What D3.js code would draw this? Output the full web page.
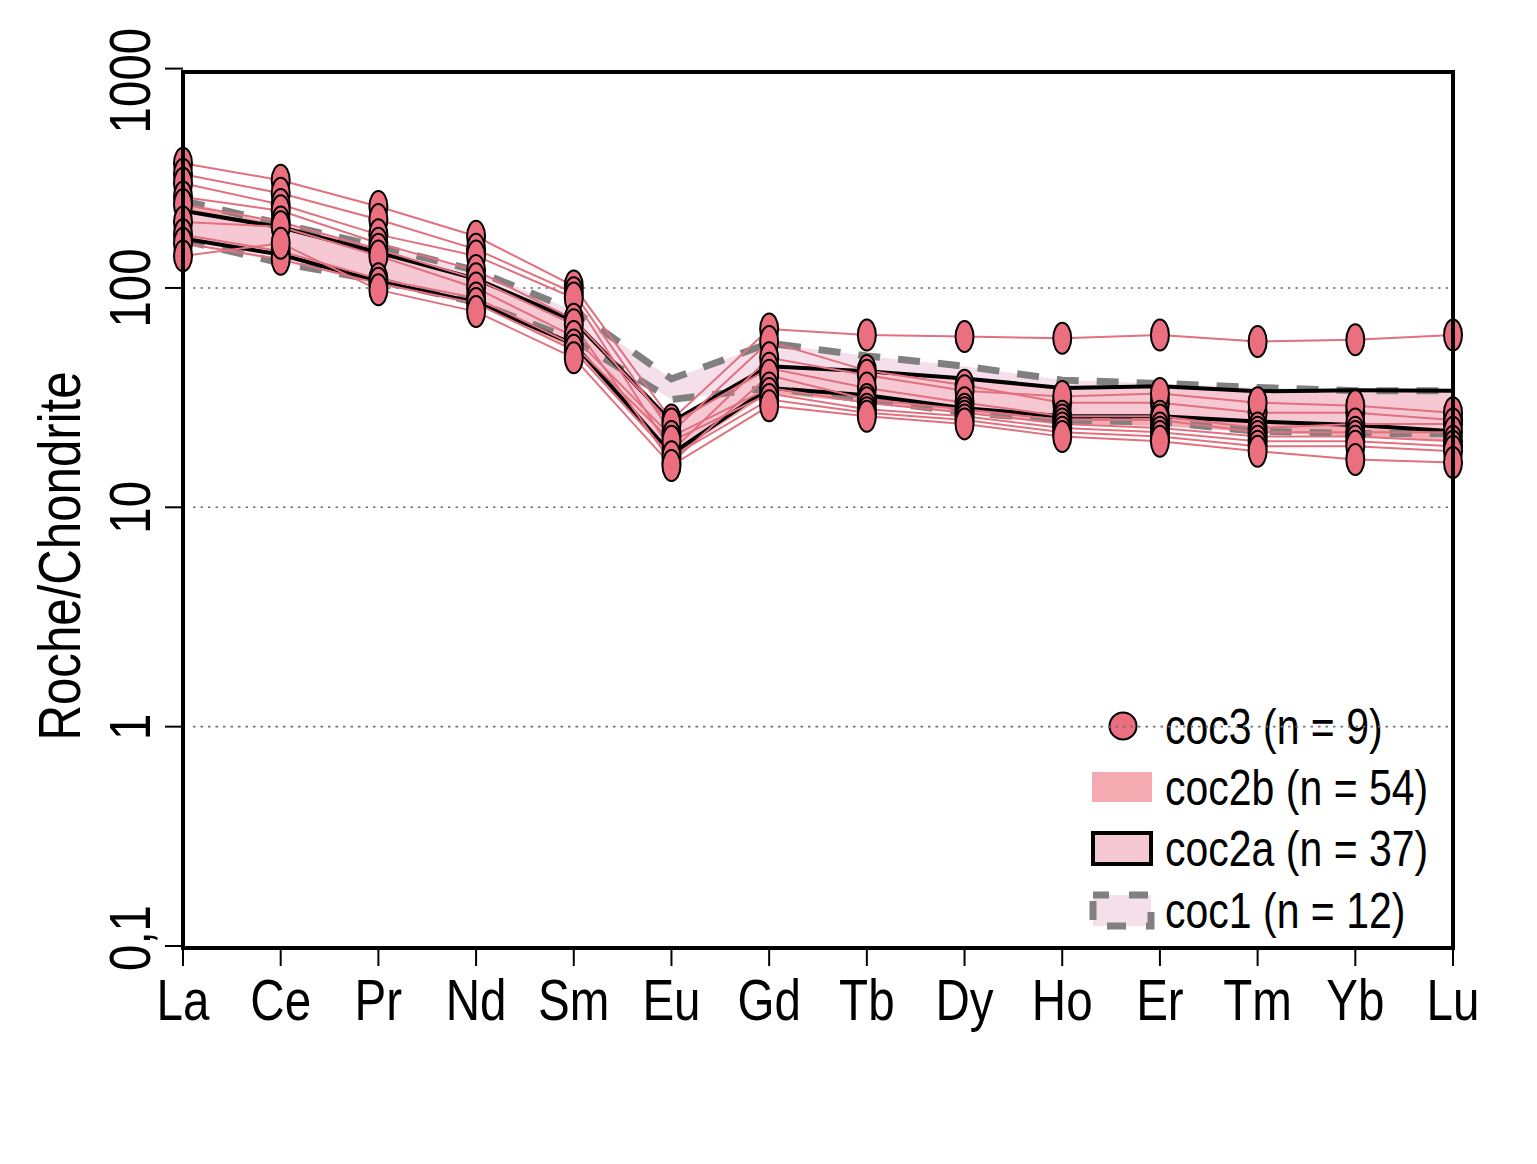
<!DOCTYPE html>
<html>
<head>
<meta charset="utf-8">
<script src="https://cdn.jsdelivr.net/npm/d3@7"></script>
<style>
  body { margin: 0; background: #fff; }
  text { font-family: "Liberation Sans", Arial, sans-serif; fill: #000; }
</style>
</head>
<body>
<svg id="Canvas" width="1537" height="1164"></svg>
<script>
// REE, chondrite normalised
var elements = ["La", "Ce", "Pr", "Nd", "Sm", "Eu", "Gd", "Tb", "Dy", "Ho", "Er", "Tm", "Yb", "Lu"];
var yTicks = [0.1, 1, 10, 100, 1000];
var yTickLabels = ["0,1", "1", "10", "100", "1000"];
var gridValues = [1, 10, 100];

// coc3 individual samples
var coc3Samples = [
  [370, 310, 235, 172, 102, 25, 65, 61, 60, 59, 61, 57, 58, 61],
  [330, 270, 205, 150, 95, 22, 57, 42, 36, 30, 30, 27, 27, 25],
  [300, 240, 175, 140, 90, 18, 48, 40, 34, 32, 33, 30, 29, 27],
  [260, 225, 160, 120, 72, 24, 43, 35, 30, 26, 26, 23, 24, 24],
  [240, 200, 150, 110, 68, 16, 40, 31, 28, 25, 25, 22, 22, 22],
  [200, 190, 140, 100, 60, 21, 35, 30, 27, 24, 23, 21, 21, 20],
  [175, 147, 110, 90, 55, 20, 33, 28, 26, 23, 22, 20, 20, 19],
  [160, 135, 105, 85, 52, 17, 31, 27, 25, 22, 21, 19, 19, 18],
  [140, 160, 98, 78, 48, 15.5, 29, 26, 24, 21, 20, 18, 16.5, 16]
];

// coc2a envelope
var coc2aUpper = [225, 189, 145, 110, 71, 24.5, 44, 41.7, 38.7, 35, 35.6, 33.8, 34.2, 34];
var coc2aLower = [168, 142, 107, 86, 55.5, 17.5, 35, 32.4, 28.3, 26, 26, 24.6, 23.7, 22.2];

// coc2b envelope
var coc2bUpper = [240, 195, 150, 112, 73, 25, 45, 42, 38, 34, 34, 32, 32, 32];
var coc2bLower = [165, 140, 105, 84, 53, 17, 33, 30, 27, 24, 23.5, 22, 21, 20];

// coc1 envelope
var coc1Upper = [250, 196, 155, 120, 79, 38.5, 56, 49, 44, 38, 36.7, 35.2, 34, 34];
var coc1Lower = [165, 130, 108, 86, 58, 31, 35, 31, 27, 25, 24.5, 22.2, 21.7, 21.7];

var legendLabels = ["coc3 (n = 9)", "coc2b (n = 54)", "coc2a (n = 37)", "coc1 (n = 12)"];

var svg = d3.select("#Canvas");
svg.append("rect").attr("width", 1537).attr("height", 1164).attr("fill", "#fff");

var plotL = 183, plotR = 1453, plotT = 72, plotB = 948;
var narrow = 0.82; // condensed look of the original lettering

var x = d3.scalePoint().domain(elements).range([plotL, plotR]);
var y = d3.scaleLog().domain([0.1, 1000]).range([946, 68.6]);

var lineCol = "#e2707e";
var dotCol = "#ec6f80";

// legend (drawn under the grid, like the original)
var legend = svg.append("g");
var rowY = [726, 787, 848, 910];
legend.append("circle").attr("cx", 1123).attr("cy", rowY[0]).attr("r", 13.5)
  .attr("fill", dotCol).attr("stroke", "#000").attr("stroke-width", 2);
legend.append("rect").attr("x", 1092).attr("y", rowY[1] - 15).attr("width", 60).attr("height", 30)
  .attr("fill", "#f3aab1");
legend.append("rect").attr("x", 1093).attr("y", rowY[2] - 15).attr("width", 58).attr("height", 31)
  .attr("fill", "#f5c8d4").attr("stroke", "#000").attr("stroke-width", 4);
legend.append("rect").attr("x", 1093).attr("y", rowY[3] - 15).attr("width", 58).attr("height", 31)
  .attr("fill", "#f5dfeb").attr("stroke", "#808080").attr("stroke-width", 7)
  .attr("stroke-dasharray", "19,20").attr("stroke-dashoffset", 3);
legend.selectAll("text.leg")
  .data(legendLabels)
  .enter()
  .append("text")
  .attr("class", "leg")
  .attr("transform", function (d, i) {
    return "translate(1165," + (rowY[i] + 18) + ") scale(" + narrow + ",1)";
  })
  .style("font-size", "50px")
  .text(function (d) { return d; });

// grid
svg.selectAll("line.grid")
  .data(gridValues)
  .enter()
  .append("line")
  .attr("class", "grid")
  .attr("x1", 193)
  .attr("x2", plotR)
  .attr("y1", function (d) { return y(d); })
  .attr("y2", function (d) { return y(d); })
  .style("stroke", "#707070")
  .style("stroke-width", 1.6)
  .style("stroke-dasharray", "2.5,5");

function band(upper, lower) {
  return d3.area()
    .x(function (d, i) { return x(elements[i]); })
    .y0(function (d, i) { return y(lower[i]); })
    .y1(function (d, i) { return y(upper[i]); })(upper);
}
var line = d3.line()
  .x(function (d, i) { return x(elements[i]); })
  .y(function (d) { return y(d); });

svg.append("path").attr("d", band(coc1Upper, coc1Lower)).attr("fill", "#f5dfeb");
svg.append("path").attr("d", band(coc2bUpper, coc2bLower)).attr("fill", "#f3aab1");
svg.append("path").attr("d", band(coc2aUpper, coc2aLower)).attr("fill", "#f5c8d4");

[coc1Upper, coc1Lower].forEach(function (s) {
  svg.append("path").attr("d", line(s))
    .attr("fill", "none").attr("stroke", "#808080")
    .attr("stroke-width", 7).attr("stroke-dasharray", "22,18");
});
[coc2aUpper, coc2aLower].forEach(function (s) {
  svg.append("path").attr("d", line(s))
    .attr("fill", "none").attr("stroke", "#000").attr("stroke-width", 4);
});

coc3Samples.forEach(function (s) {
  svg.append("path").attr("d", line(s))
    .attr("fill", "none").attr("stroke", lineCol).attr("stroke-width", 2);
});
coc3Samples.forEach(function (s) {
  svg.selectAll(null)
    .data(s)
    .enter()
    .append("ellipse")
    .attr("cx", function (d, i) { return x(elements[i]); })
    .attr("cy", function (d) { return y(d); })
    .attr("rx", 9)
    .attr("ry", 15.5)
    .attr("fill", dotCol)
    .attr("stroke", "#000")
    .attr("stroke-width", 2);
});

// frame and axes
svg.append("rect")
  .attr("x", plotL).attr("y", plotT)
  .attr("width", plotR - plotL).attr("height", plotB - plotT)
  .attr("fill", "none").attr("stroke", "#000").attr("stroke-width", 4);

svg.selectAll("line.xt")
  .data(elements)
  .enter()
  .append("line")
  .attr("x1", function (d) { return x(d); })
  .attr("x2", function (d) { return x(d); })
  .attr("y1", plotB)
  .attr("y2", plotB + 18)
  .style("stroke", "#000").style("stroke-width", 2);

svg.selectAll("text.xl")
  .data(elements)
  .enter()
  .append("text")
  .attr("transform", function (d) {
    return "translate(" + x(d) + ",1020) scale(" + narrow + ",1)";
  })
  .attr("text-anchor", "middle")
  .style("font-size", "58px")
  .text(function (d) { return d; });

svg.selectAll("line.yt")
  .data(yTicks)
  .enter()
  .append("line")
  .attr("x1", plotL - 18)
  .attr("x2", plotL)
  .attr("y1", function (d) { return y(d); })
  .attr("y2", function (d) { return y(d); })
  .style("stroke", "#000").style("stroke-width", 2);

svg.selectAll("text.yl")
  .data(yTickLabels)
  .enter()
  .append("text")
  .attr("transform", function (d, i) {
    var ty = y(yTicks[i]);
    if (i === 0) ty -= 8;
    if (i === yTicks.length - 1) ty += 12;
    return "translate(150," + ty + ") rotate(-90) scale(" + narrow + ",1)";
  })
  .attr("text-anchor", "middle")
  .style("font-size", "58px")
  .text(function (d) { return d; });

svg.append("text")
  .attr("transform", "translate(80,556) rotate(-90) scale(" + narrow + ",1)")
  .attr("text-anchor", "middle")
  .style("font-size", "60px")
  .text("Roche/Chondrite");
</script>
</body>
</html>
